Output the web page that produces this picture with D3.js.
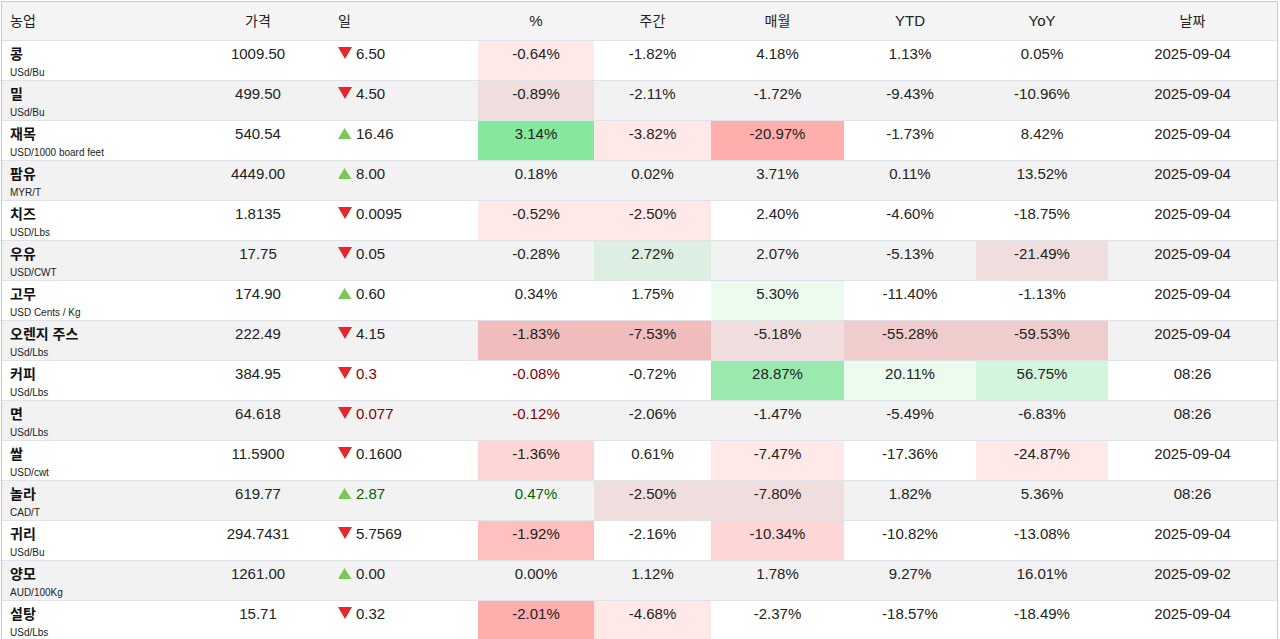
<!DOCTYPE html>
<html>
<head>
<meta charset="utf-8">
<script src="https://cdn.jsdelivr.net/npm/d3@7"></script>
<style>
  body { margin: 0; background: #fff; }
  svg text { font-family: "Liberation Sans", Arial, "Noto Sans CJK KR", sans-serif; }
</style>
</head>
<body>
<div id="chart"></div>
<script>
/* ----------------------
 * ----------------------- */
var names = ["콩", "밀", "재목", "팜유", "치즈", "우유", "고무", "오렌지 주스",
             "커피", "면", "쌀", "놀라", "귀리", "양모", "설탕"];
var units = ["USd/Bu", "USd/Bu", "USD/1000 board feet", "MYR/T", "USD/Lbs", "USD/CWT",
             "USD Cents / Kg", "USd/Lbs", "USd/Lbs", "USd/Lbs", "USD/cwt", "CAD/T",
             "USd/Bu", "AUD/100Kg", "USd/Lbs"];
var prices = ["1009.50", "499.50", "540.54", "4449.00", "1.8135", "17.75", "174.90", "222.49",
              "384.95", "64.618", "11.5900", "619.77", "294.7431", "1261.00", "15.71"];
var dayChange = ["-6.50", "-4.50", "16.46", "8.00", "-0.0095", "-0.05", "0.60", "-4.15",
                 "-0.3", "-0.077", "-0.1600", "2.87", "-5.7569", "0.00", "-0.32"];
var pctChange = [-0.64, -0.89, 3.14, 0.18, -0.52, -0.28, 0.34, -1.83, -0.08, -0.12, -1.36, 0.47, -1.92, 0.00, -2.01];
var weekly    = [-1.82, -2.11, -3.82, 0.02, -2.50, 2.72, 1.75, -7.53, -0.72, -2.06, 0.61, -2.50, -2.16, 1.12, -4.68];
var monthly   = [4.18, -1.72, -20.97, 3.71, 2.40, 2.07, 5.30, -5.18, 28.87, -1.47, -7.47, -7.80, -10.34, 1.78, -2.37];
var ytd       = [1.13, -9.43, -1.73, 0.11, -4.60, -5.13, -11.40, -55.28, 20.11, -5.49, -17.36, 1.82, -10.82, 9.27, -18.57];
var yoy       = [0.05, -10.96, 8.42, 13.52, -18.75, -21.49, -1.13, -59.53, 56.75, -6.83, -24.87, 5.36, -13.08, 16.01, -18.49];
var dates = ["2025-09-04", "2025-09-04", "2025-09-04", "2025-09-04", "2025-09-04", "2025-09-04",
             "2025-09-04", "2025-09-04", "08:26", "08:26", "2025-09-04", "08:26", "2025-09-04",
             "2025-09-02", "2025-09-04"];

// heat level of each cell (-4 strong fall .. +4 strong rise)
var heatPct   = [-1, -1, 4, 0, -1, 0, 0, -3, 0, 0, -2, 0, -3, 0, -4];
var heatWeek  = [0, 0, -1, 0, -1, 1, 0, -3, 0, 0, 0, -1, 0, 0, -1];
var heatMonth = [0, 0, -4, 0, 0, 0, 1, -1, 3, 0, -1, -1, -2, 0, 0];
var heatYtd   = [0, 0, 0, 0, 0, 0, 0, -2, 1, 0, 0, 0, 0, 0, 0];
var heatYoy   = [0, 0, 0, 0, 0, -1, 0, -2, 2, 0, -1, 0, 0, 0, 0];

var headers = ["농업", "가격", "일", "%", "주간", "매월", "YTD", "YoY", "날짜"];

/* ----------------------
   layout
 * ----------------------- */
var width = 1280, height = 639;
var left = 1, right = 1277;
var colEdges = [left, 186, 330, 478, 594, 711, 844, 976, 1108, right];
var headH = 40;
var baseY = 19;

var y = d3.scaleBand().domain(names).range([headH, headH + names.length * 40]);

var heatWhite = d3.scaleOrdinal()
  .domain([-4, -3, -2, -1, 1, 2, 3, 4])
  .range(["#ffadad", "#ffc0c0", "#ffd6d6", "#ffe8e8", "#ebfbee", "#d3f5dc", "#9aeab0", "#85e89d"]);
var heatGray = d3.scaleOrdinal()
  .domain([-4, -3, -2, -1, 1, 2, 3, 4])
  .range(["#efb0b0", "#f0bcbc", "#f0cdcd", "#f0dede", "#ddeee2", "#c9ebd2", "#93e0a8", "#80de96"]);

// plain hyphen for negatives, like the source table
var locale = d3.formatLocale({ decimal: ".", thousands: ",", grouping: [3], currency: ["", ""], minus: "-" });
var fmt2 = locale.format(".2f");
var fmtPct = function(v) { return fmt2(v) + "%"; };

var svg = d3.select("#chart").append("svg")
  .attr("width", width)
  .attr("height", height);

// header
svg.append("rect")
  .attr("x", left).attr("y", 1)
  .attr("width", right - left).attr("height", headH - 1)
  .attr("fill", "#f4f4f4");

// striped rows
svg.selectAll(".stripe")
  .data(names.filter(function(d, i) { return i % 2 === 1; }))
  .enter().append("rect")
  .attr("class", "stripe")
  .attr("x", left)
  .attr("y", function(d) { return y(d) + 1; })
  .attr("width", right - left)
  .attr("height", y.bandwidth() - 1)
  .attr("fill", "#f2f2f2");

// heat cells
var heatCols = [heatPct, heatWeek, heatMonth, heatYtd, heatYoy];
var cells = [];
heatCols.forEach(function(col, c) {
  col.forEach(function(lvl, i) {
    if (lvl !== 0) cells.push({ row: i, col: c + 3, lvl: lvl });
  });
});
svg.selectAll(".heat")
  .data(cells)
  .enter().append("rect")
  .attr("class", "heat")
  .attr("x", function(d) { return colEdges[d.col]; })
  .attr("y", function(d) { return y(names[d.row]) + 1; })
  .attr("width", function(d) { return colEdges[d.col + 1] - colEdges[d.col]; })
  .attr("height", y.bandwidth() - 1)
  .attr("fill", function(d) { return d.row % 2 ? heatGray(d.lvl) : heatWhite(d.lvl); });

// row separators
svg.selectAll(".sep")
  .data(names)
  .enter().append("rect")
  .attr("class", "sep")
  .attr("x", left)
  .attr("y", function(d) { return y(d); })
  .attr("width", right - left)
  .attr("height", 1)
  .attr("fill", "#dfe3e8");

// outer border
svg.append("path")
  .attr("d", "M" + (left + 0.5) + "," + height + "V1.5H" + (right + 0.5) + "V" + height)
  .attr("fill", "none")
  .attr("stroke", "#c8c8c8")
  .attr("stroke-width", 1);

// header labels
var hangul = /[가-힣]/;
svg.selectAll(".head")
  .data(headers)
  .enter().append("text")
  .attr("class", "head")
  .attr("x", function(d, i) {
    if (i === 0) return 10;
    if (i === 2) return colEdges[2] + 8;
    return (colEdges[i] + colEdges[i + 1]) / 2;
  })
  .attr("y", 26)
  .attr("text-anchor", function(d, i) { return (i === 0 || i === 2) ? "start" : "middle"; })
  .attr("font-size", function(d) { return hangul.test(d) ? 14 : 15; })
  .attr("fill", "#222")
  .text(function(d) { return d; });

// rows
var rows = svg.selectAll(".row")
  .data(names)
  .enter().append("g")
  .attr("class", "row")
  .attr("transform", function(d) { return "translate(0," + y(d) + ")"; });

rows.append("text")
  .attr("x", 10).attr("y", baseY)
  .attr("font-size", 14).attr("font-weight", "bold")
  .attr("fill", "#111")
  .text(function(d) { return d; });

rows.append("text")
  .attr("x", 10).attr("y", 36)
  .attr("font-size", 10)
  .attr("fill", "#222")
  .text(function(d, i) { return units[i]; });

rows.append("text")
  .attr("x", (colEdges[1] + colEdges[2]) / 2).attr("y", baseY)
  .attr("text-anchor", "middle")
  .attr("font-size", 15)
  .attr("fill", "#222")
  .text(function(d, i) { return prices[i]; });

var isLive = function(i) { return dates[i].indexOf(":") > -1; };
var isDown = function(i) { return dayChange[i].charAt(0) === "-"; };

// arrows
var tx = colEdges[2] + 8;
rows.append("path")
  .attr("d", function(d, i) {
    var p = d3.path();
    if (isDown(i)) {
      p.moveTo(tx, 7); p.lineTo(tx + 14, 7); p.lineTo(tx + 7, 19);
    } else {
      p.moveTo(tx + 6.5, 8); p.lineTo(tx + 13.5, 19); p.lineTo(tx, 19);
    }
    p.closePath();
    return p.toString();
  })
  .attr("fill", function(d, i) { return isDown(i) ? "#e5262b" : "#7dc855"; });

rows.append("text")
  .attr("x", tx + 18).attr("y", baseY)
  .attr("font-size", 15)
  .attr("fill", function(d, i) {
    if (!isLive(i)) return "#222";
    return isDown(i) ? "#800000" : "#006400";
  })
  .text(function(d, i) { return dayChange[i].replace("-", ""); });

// percentage columns
var pctCols = [pctChange, weekly, monthly, ytd, yoy];
pctCols.forEach(function(col, c) {
  var cx = (colEdges[c + 3] + colEdges[c + 4]) / 2;
  rows.append("text")
    .attr("x", cx).attr("y", baseY)
    .attr("text-anchor", "middle")
    .attr("font-size", 15)
    .attr("fill", function(d, i) {
      if (c !== 0 || !isLive(i)) return "#222";
      return col[i] < 0 ? "#800000" : "#006400";
    })
    .text(function(d, i) { return fmtPct(col[i]); });
});

rows.append("text")
  .attr("x", (colEdges[8] + colEdges[9]) / 2).attr("y", baseY)
  .attr("text-anchor", "middle")
  .attr("font-size", 15)
  .attr("fill", "#222")
  .text(function(d, i) { return dates[i]; });
</script>
</body>
</html>
